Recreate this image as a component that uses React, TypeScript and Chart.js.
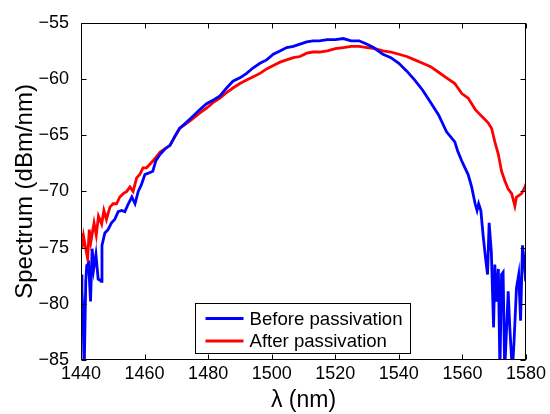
import { useEffect, useRef } from "react";
import { Chart, registerables } from "chart.js";

Chart.register(...registerables);

const xTicks = [1440, 1460, 1480, 1500, 1520, 1540, 1560, 1580];
const yTicks = [-85, -80, -75, -70, -65, -60, -55];
const seriesLabels = ["Before passivation", "After passivation"];
const xTitle = "λ (nm)";
const yTitle = "Spectrum (dBm/nm)";

const blueX = [
  1440.0, 1440.3, 1440.6, 1441.0, 1441.5, 1441.8, 1442.4, 1443.0, 1443.5, 1444.0,
  1444.7, 1445.4, 1446.0, 1446.3, 1446.6, 1447.5, 1448.5, 1449.6, 1450.6, 1451.7,
  1452.8, 1453.8, 1454.9, 1456.0, 1457.0, 1458.0, 1459.0, 1460.1, 1461.0, 1462.6,
  1463.5, 1464.9, 1466.5, 1468.0, 1469.5, 1471.0, 1473.0, 1475.3, 1477.5, 1479.5,
  1481.5, 1483.7, 1485.8, 1487.8, 1490.0, 1492.1, 1494.2, 1496.3, 1498.4, 1500.5,
  1502.6, 1504.7, 1506.8, 1508.9, 1511.0, 1513.0, 1515.0, 1517.5, 1520.0, 1522.5,
  1525.0, 1527.5, 1530.0, 1532.0, 1535.0, 1537.5, 1540.0, 1542.5, 1545.0, 1547.5,
  1550.0, 1552.5, 1555.0, 1557.6, 1558.5, 1559.8, 1560.8, 1561.8, 1562.9, 1564.0,
  1564.6, 1565.1, 1565.8, 1566.5, 1567.3, 1567.9, 1568.4, 1569.1, 1569.8, 1570.2,
  1570.7, 1571.3, 1571.8, 1572.3, 1572.8, 1573.3, 1574.4, 1574.9, 1575.7, 1576.2,
  1577.0, 1577.7, 1578.3, 1578.9, 1579.4, 1579.9,
];
const blueY = [
  -77.4, -78.9, -80.5, -86.0, -78.0, -76.6, -76.4, -79.8, -75.1, -76.9,
  -75.6, -77.8, -77.9, -78.0, -74.8, -73.7, -73.4, -72.8, -72.5, -71.8,
  -71.7, -71.8, -71.1, -70.5, -71.1, -70.0, -69.4, -68.5, -68.4, -68.2,
  -67.3, -66.7, -66.2, -65.9, -65.1, -64.4, -63.9, -63.3, -62.7, -62.2,
  -61.9, -61.5, -60.8, -60.2, -59.9, -59.5, -59.0, -58.6, -58.3, -57.8,
  -57.5, -57.2, -57.1, -56.9, -56.7, -56.6, -56.6, -56.5, -56.5, -56.4,
  -56.6, -56.6, -56.9, -57.2, -57.8, -58.1, -58.6, -59.3, -60.1, -61.0,
  -62.1, -63.2, -64.7, -65.6, -66.4, -67.3, -67.9, -68.5, -69.6, -71.1,
  -71.7, -71.1, -71.7, -73.9, -76.0, -77.4, -72.8, -75.4, -82.1, -76.5,
  -79.8, -76.9, -86.0, -77.4, -77.2, -86.0, -78.9, -82.1, -86.0, -83.6,
  -78.6, -77.4, -81.5, -74.8, -76.1, -78.0,
];

const redX = [
  1440.0, 1440.3, 1440.8, 1441.3, 1442.1, 1442.6, 1443.1, 1444.1, 1444.8, 1445.5,
  1446.5, 1447.2, 1448.0, 1449.1, 1450.1, 1451.2, 1452.2, 1453.3, 1454.4, 1455.4,
  1456.4, 1457.5, 1458.5, 1459.5, 1460.6, 1461.6, 1462.6, 1464.9, 1468.0, 1471.0,
  1473.0, 1475.3, 1477.5, 1479.5, 1481.5, 1483.7, 1485.8, 1487.8, 1490.0, 1492.1,
  1494.2, 1496.3, 1498.4, 1500.5, 1502.6, 1504.7, 1506.8, 1508.9, 1511.0, 1513.0,
  1515.0, 1517.5, 1520.0, 1522.5, 1525.0, 1527.5, 1530.0, 1532.5, 1535.0, 1537.5,
  1540.0, 1542.5, 1545.0, 1547.5, 1550.0, 1552.5, 1555.0, 1557.6, 1559.8, 1561.8,
  1564.0, 1566.0, 1568.1, 1569.2, 1570.2, 1571.3, 1572.3, 1573.4, 1574.4, 1575.5,
  1576.5, 1577.0, 1577.6, 1578.6, 1579.7, 1580.0,
];
const redY = [
  -73.7, -75.1, -74.0, -74.8, -76.0, -73.4, -74.5, -72.8, -73.9, -72.2,
  -72.9, -71.7, -72.5, -71.4, -71.1, -71.1, -70.5, -70.2, -70.0, -69.6,
  -70.0, -68.8, -68.5, -67.9, -67.9, -67.6, -67.3, -66.5, -65.9, -64.4,
  -64.0, -63.5, -63.0, -62.6, -62.1, -61.7, -61.2, -60.8, -60.4, -60.1,
  -59.8, -59.5, -59.1, -58.8, -58.5, -58.3, -58.1, -58.0, -57.7, -57.6,
  -57.6, -57.5, -57.3, -57.2, -57.1, -57.1, -57.2, -57.3, -57.5, -57.6,
  -57.8, -58.0, -58.3, -58.6, -58.9, -59.4, -59.9, -60.4, -61.3, -61.7,
  -62.7, -63.3, -63.9, -64.4, -65.6, -66.7, -68.2, -69.1, -69.8, -70.2,
  -71.3, -70.5, -70.4, -70.2, -69.6, -69.3,
];

const FONT = "Arial, 'Liberation Sans', Helvetica, sans-serif";
const BLUE = "#0000ff";
const RED = "#ff0000";

const framePlugin = {
  id: "matlabFrame",
  afterDatasetsDraw(chart: any) {
    const { ctx, chartArea: a, scales } = chart;
    ctx.save();
    ctx.strokeStyle = "#000";
    ctx.lineWidth = 1;
    const L = Math.round(a.left) + 0.5;
    const R = Math.round(a.right) - 0.5;
    const T = Math.round(a.top) + 0.5;
    const B = Math.round(a.bottom) - 0.5;
    ctx.strokeRect(L, T, R - L, B - T);
    const tl = 5;
    ctx.beginPath();
    xTicks.forEach((v) => {
      const px = Math.round(scales.x.getPixelForValue(v)) + 0.5;
      ctx.moveTo(px, B);
      ctx.lineTo(px, B - tl);
      ctx.moveTo(px, T);
      ctx.lineTo(px, T + tl);
    });
    yTicks.forEach((v) => {
      const py = Math.round(scales.y.getPixelForValue(v)) + 0.5;
      ctx.moveTo(L, py);
      ctx.lineTo(L + tl, py);
      ctx.moveTo(R, py);
      ctx.lineTo(R - tl, py);
    });
    ctx.stroke();

    // legend box inside the axes
    const bx = Math.round(a.left + 114) + 0.5;
    const bw = 215;
    const bh = 50;
    const by = Math.round(a.bottom - 7 - bh) + 0.5;
    ctx.fillStyle = "#fff";
    ctx.fillRect(bx, by, bw, bh);
    ctx.strokeRect(bx, by, bw, bh);
    ctx.font = `18.6px ${FONT}`;
    ctx.textBaseline = "middle";
    ctx.textAlign = "left";
    chart.data.datasets.forEach((ds: any, i: number) => {
      const cy = by + 15 + i * 22.5;
      ctx.strokeStyle = ds.borderColor;
      ctx.lineWidth = 2.8;
      ctx.beginPath();
      ctx.moveTo(bx + 10, cy);
      ctx.lineTo(bx + 48, cy);
      ctx.stroke();
      ctx.fillStyle = "#000";
      ctx.fillText(ds.label, bx + 54, cy + 1);
    });
    ctx.restore();
  },
};

const minus = (v: number) => String(v).replace("-", "\u2212");

export default function App() {
  const ref = useRef<HTMLCanvasElement | null>(null);
  useEffect(() => {
    document.body.style.margin = "0";
    const canvas = ref.current;
    if (!canvas) return;
    const chart = new Chart(canvas, {
      type: "line",
      data: {
        datasets: [
          {
            label: seriesLabels[0],
            data: blueX.map((x, i) => ({ x, y: blueY[i] })),
            borderColor: BLUE,
            backgroundColor: BLUE,
            borderWidth: 2.8,
            pointRadius: 0,
            tension: 0,
            clip: 0,
          },
          {
            label: seriesLabels[1],
            data: redX.map((x, i) => ({ x, y: redY[i] })),
            borderColor: RED,
            backgroundColor: RED,
            borderWidth: 2.8,
            pointRadius: 0,
            tension: 0,
            clip: 0,
          },
        ],
      },
      options: {
        animation: false,
        responsive: false,
        devicePixelRatio: 1,
        layout: { padding: { left: 0, right: 24, top: 15, bottom: 0 } },
        plugins: { legend: { display: false }, tooltip: { enabled: false } },
        scales: {
          x: {
            type: "linear",
            min: 1440,
            max: 1580,
            afterBuildTicks: (s: any) => {
              s.ticks = xTicks.map((value) => ({ value }));
            },
            afterFit: (s: any) => {
              s.height = 54;
            },
            grid: { display: false, drawTicks: false },
            border: { display: false },
            ticks: {
              color: "#000",
              font: { family: FONT, size: 18 },
              padding: 3,
              maxRotation: 0,
              autoSkip: false,
              callback: (v: any) => String(v),
            },
            title: {
              display: true,
              text: xTitle,
              color: "#000",
              font: { family: FONT, size: 23 },
              padding: { top: 0, bottom: 0 },
            },
          },
          y: {
            type: "linear",
            min: -85,
            max: -55,
            afterBuildTicks: (s: any) => {
              s.ticks = yTicks.map((value) => ({ value }));
            },
            afterFit: (s: any) => {
              s.width = 81;
            },
            grid: { display: false, drawTicks: false },
            border: { display: false },
            ticks: {
              color: "#000",
              font: { family: FONT, size: 18 },
              padding: 12,
              autoSkip: false,
              callback: (v: any) => minus(v),
            },
            title: {
              display: true,
              text: yTitle,
              color: "#000",
              font: { family: FONT, size: 24 },
              padding: { top: 11, bottom: 0 },
            },
          },
        },
      },
      plugins: [framePlugin],
    });
    return () => chart.destroy();
  }, []);
  return (
    <canvas
      ref={ref}
      width={550}
      height={414}
      style={{ display: "block", width: 550, height: 414 }}
    />
  );
}
